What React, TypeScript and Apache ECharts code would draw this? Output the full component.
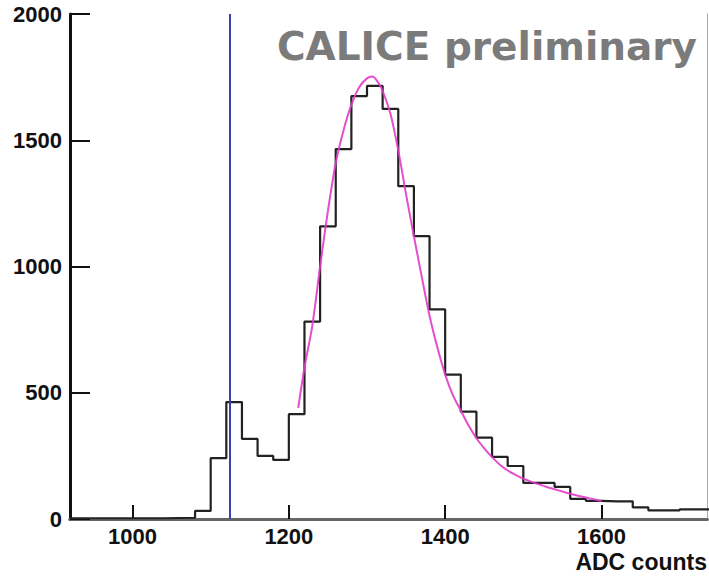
import { useEffect, useRef } from "react";
import * as echarts from "echarts";

// Histogram bin lower edges (ADC counts) and bin contents
const binEdges = [
  920, 940, 960, 980, 1000, 1020, 1040, 1060, 1080, 1100, 1120, 1140, 1160, 1180,
  1200, 1220, 1240, 1260, 1280, 1300, 1320, 1340, 1360, 1380, 1400, 1420, 1440,
  1460, 1480, 1500, 1520, 1540, 1560, 1580, 1600, 1620, 1640, 1660, 1680, 1700, 1720,
];
const binUpperEnd = 1740;
const binCounts = [
  3, 3, 3, 3, 3, 3, 4, 5, 32, 241, 463, 317, 250, 234,
  415, 782, 1159, 1465, 1675, 1715, 1624, 1318, 1120, 830, 572, 425, 322,
  246, 210, 143, 143, 127, 80, 72, 70, 70, 46, 34, 34, 38, 38,
];

// Fitted curve (magenta)
const fitX = [
  1212, 1220, 1230, 1240, 1250, 1260, 1270, 1280, 1290, 1300, 1307, 1315, 1320,
  1330, 1340, 1350, 1360, 1370, 1380, 1390, 1400, 1410, 1420, 1430, 1440, 1450,
  1460, 1470, 1480, 1490, 1500, 1510, 1520, 1530, 1540, 1550, 1560, 1570, 1580,
  1590, 1600,
];
const fitY = [
  440, 600, 765, 1000, 1220, 1410, 1540, 1640, 1710, 1745, 1752, 1725, 1695,
  1605, 1460, 1285, 1120, 960, 805, 680, 572, 490, 430, 370, 320, 280,
  245, 215, 192, 175, 160, 148, 137, 127, 118, 109, 100, 92, 85,
  78, 71,
];

const xTickValues = [1000, 1200, 1400, 1600];
const cutValue = 1125;
const title = "CALICE preliminary";
const xTitle = "ADC counts";

export default function App() {
  const ref = useRef<HTMLDivElement>(null);
  useEffect(() => {
    if (!ref.current) return;
    const chart = echarts.init(ref.current, null, { renderer: "svg" });
    const histData: [number, number][] = binEdges.map((e, i) => [e, binCounts[i]]);
    histData.push([binUpperEnd, binCounts[binCounts.length - 1]]);
    const fitData = fitX.map((x, i) => [x, fitY[i]]);
    const labelFont = {
      fontFamily: "Liberation Sans, Arial, sans-serif",
      fontWeight: "bold" as const,
      fontSize: 22,
      color: "#111",
      formatter: (v: number) => String(v),
    };
    chart.setOption({
      animation: false,
      backgroundColor: "#fff",
      grid: { left: 70, right: 2, top: 14, bottom: 57, containLabel: false },
      xAxis: [
        {
          type: "value",
          min: 920,
          max: 1735,
          position: "bottom",
          axisLine: { show: true, lineStyle: { color: "#111", width: 3 } },
          axisTick: {
            show: true,
            inside: true,
            length: 14,
            customValues: xTickValues,
            lineStyle: { color: "#111", width: 2 },
          },
          axisLabel: { ...labelFont, margin: 6, customValues: xTickValues },
          splitLine: { show: false },
        },
        {
          type: "value",
          min: 920,
          max: 1735,
          position: "top",
          axisLine: { show: true, lineStyle: { color: "#666", width: 3 } },
          axisTick: { show: false },
          axisLabel: { show: false },
          splitLine: { show: false },
        },
      ],
      yAxis: [
        {
          type: "value",
          min: 0,
          max: 2000,
          interval: 500,
          position: "left",
          axisLine: { show: true, lineStyle: { color: "#111", width: 3 } },
          axisTick: { show: true, inside: true, length: 20, lineStyle: { color: "#111", width: 2 } },
          axisLabel: { ...labelFont, margin: 8 },
          splitLine: { show: false },
        },
        {
          type: "value",
          min: 0,
          max: 2000,
          position: "right",
          axisLine: { show: true, lineStyle: { color: "#aaa", width: 1 } },
          axisTick: { show: false },
          axisLabel: { show: false },
          splitLine: { show: false },
        },
      ],
      series: [
        {
          type: "line",
          step: "end",
          data: histData,
          showSymbol: false,
          symbol: "none",
          lineStyle: { color: "#222", width: 2.2 },
          clip: true,
          z: 3,
          markLine: {
            silent: true,
            symbol: ["none", "none"],
            label: { show: false },
            lineStyle: { color: "#3d3db8", width: 2, type: "solid" },
            data: [{ xAxis: cutValue }],
          },
        },
        {
          type: "line",
          smooth: 0.3,
          data: fitData,
          showSymbol: false,
          symbol: "none",
          lineStyle: { color: "#e03cc8", width: 2, opacity: 0.9 },
          z: 4,
        },
      ],
      graphic: [
        {
          type: "text",
          x: 697,
          y: 46,
          style: {
            text: title,
            fill: "#7b7b7b",
            fontFamily: "DejaVu Sans, sans-serif",
            fontWeight: "bold",
            fontSize: 39,
            textAlign: "right",
            textVerticalAlign: "middle",
          },
        },
        {
          type: "text",
          x: 707,
          y: 562,
          style: {
            text: xTitle,
            fill: "#111",
            fontFamily: "Liberation Sans, Arial, sans-serif",
            fontWeight: "bold",
            fontSize: 23,
            textAlign: "right",
            textVerticalAlign: "middle",
          },
        },
      ],
    });
    return () => chart.dispose();
  }, []);
  return (
    <div
      ref={ref}
      style={{ position: "fixed", left: 0, top: 0, width: 709, height: 576 }}
    />
  );
}
